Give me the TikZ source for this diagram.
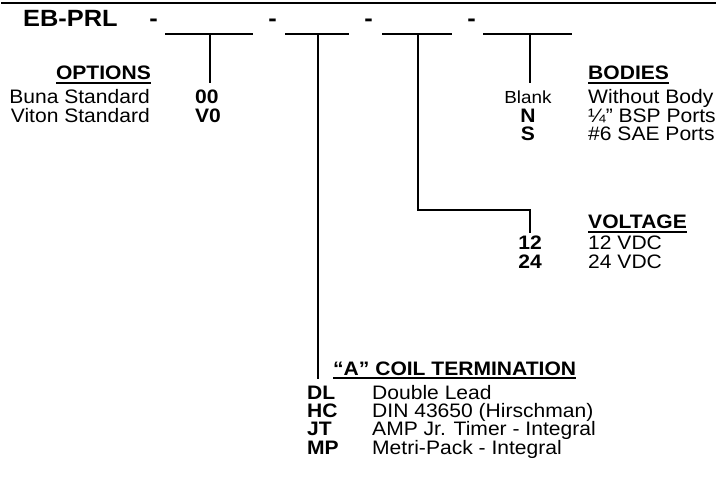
\documentclass[tikz,border=0pt]{standalone}
\usepackage{fontspec}
\setmainfont{Liberation Sans}[FakeStretch=1.08]
\usetikzlibrary{positioning}
\newcommand\bodyfont{\fontsize{19.5}{18}\selectfont}
\newcommand\partfont{\fontsize{23.5}{24}\selectfont\bfseries}
\newcommand\headul[1]{\setbox0=\hbox{#1}\rlap{\rule[-4pt]{\wd0}{2pt}}\box0}
\tikzset{
  TX/.style={inner sep=0pt,text height=14pt,text depth=4pt,font=\bodyfont},
  CD/.style={TX,font=\bodyfont\bfseries},
  HD/.style={TX,font=\bodyfont\bfseries},
  SM/.style={TX,font=\fontsize{17.5}{18}\selectfont},
  PN/.style={inner sep=0pt,font=\partfont},
  SL/.style={line width=2pt},
  ln/.style={line width=2pt}
}

\begin{document}
\begin{tikzpicture}[x=1pt,y=-1pt]
  \useasboundingbox (0,0) rectangle (718,481);
  \draw[line width=2.5pt] (1,3) -- (716,3);

  \node[PN,anchor=base west] (part) at (23,27) {EB-PRL};
  \node[PN,anchor=base] (d1) at (153.5,27) {-};
  \node[PN,anchor=base] (d2) at (272.5,27) {-};
  \node[PN,anchor=base] (d3) at (368.5,27) {-};
  \node[PN,anchor=base] (d4) at (471.5,27) {-};

  \coordinate (s1) at (210,34);
  \coordinate (s2) at (318,34);
  \coordinate (s3) at (418,34);
  \coordinate (s4) at (530,34);
  \draw[SL] (165,34) -- (253,34);
  \draw[SL] (285,34) -- (349,34);
  \draw[SL] (382,34) -- (452,34);
  \draw[SL] (483,34) -- (572,34);

  \node[HD,anchor=base east] (opts) at (151,80) {\headul{OPTIONS}};
  \node[TX,anchor=base east] (buna) at (150,104) {Buna Standard};
  \node[TX,below=0pt of buna.south east,anchor=north east] (viton) {Viton Standard};
  \node[CD,anchor=base west] (c00) at (195,104) {00};
  \node[CD,below=0pt of c00.south west,anchor=north west] (cV0) {V0};

  \node[HD,anchor=base west] (bodies) at (588,80) {\headul{BODIES}};
  \node[SM,anchor=base] (blank) at (528,104) {Blank};
  \node[CD,below=0pt of blank] (cN) {N};
  \node[CD,below=0pt of cN] (cS) {S};
  \node[TX,anchor=base west] (nobody) at (588,104) {Without Body};
  \node[TX,below=0pt of nobody.south west,anchor=north west] (bsp) {¼” BSP Ports};
  \node[TX,below=0pt of bsp.south west,anchor=north west] (sae) {\#6 SAE Ports};

  \node[HD,anchor=base west] (volt) at (588,229) {\headul{VOLTAGE}};
  \node[CD,anchor=base] (c12) at (530,250) {12};
  \node[CD,below=0pt of c12] (c24) {24};
  \node[TX,anchor=base west] (v12) at (588,250) {12 VDC};
  \node[TX,below=0pt of v12.south west,anchor=north west] (v24) {24 VDC};

  \node[HD,anchor=base west] (coil) at (333,375) {\headul{“A” COIL TERMINATION}};
  \node[CD,anchor=base west] (cDL) at (307,399) {DL};
  \node[CD,below=0pt of cDL.south west,anchor=north west] (cHC) {HC};
  \node[CD,below=0pt of cHC.south west,anchor=north west] (cJT) {JT};
  \node[CD,below=0pt of cJT.south west,anchor=north west] (cMP) {MP};
  \node[TX,anchor=base west] (tDL) at (372,399) {Double Lead};
  \node[TX,below=0pt of tDL.south west,anchor=north west] (tHC) {DIN 43650 (Hirschman)};
  \node[TX,below=0pt of tHC.south west,anchor=north west] (tJT) {AMP Jr. Timer - Integral};
  \node[TX,below=0pt of tJT.south west,anchor=north west] (tMP) {Metri-Pack - Integral};

  \coordinate (bend) at (530,210);
  \draw[ln,shorten >=7pt] (s1) -- (s1 |- c00.north);
  \draw[ln,shorten >=6pt] (s2) -- (s2 |- cDL.north);
  \draw[ln,shorten >=3pt] (s3) |- (bend) -- (bend |- c12.north);
  \draw[ln,shorten >=7pt] (s4) -- (s4 |- blank.north);
\end{tikzpicture}
\end{document}
